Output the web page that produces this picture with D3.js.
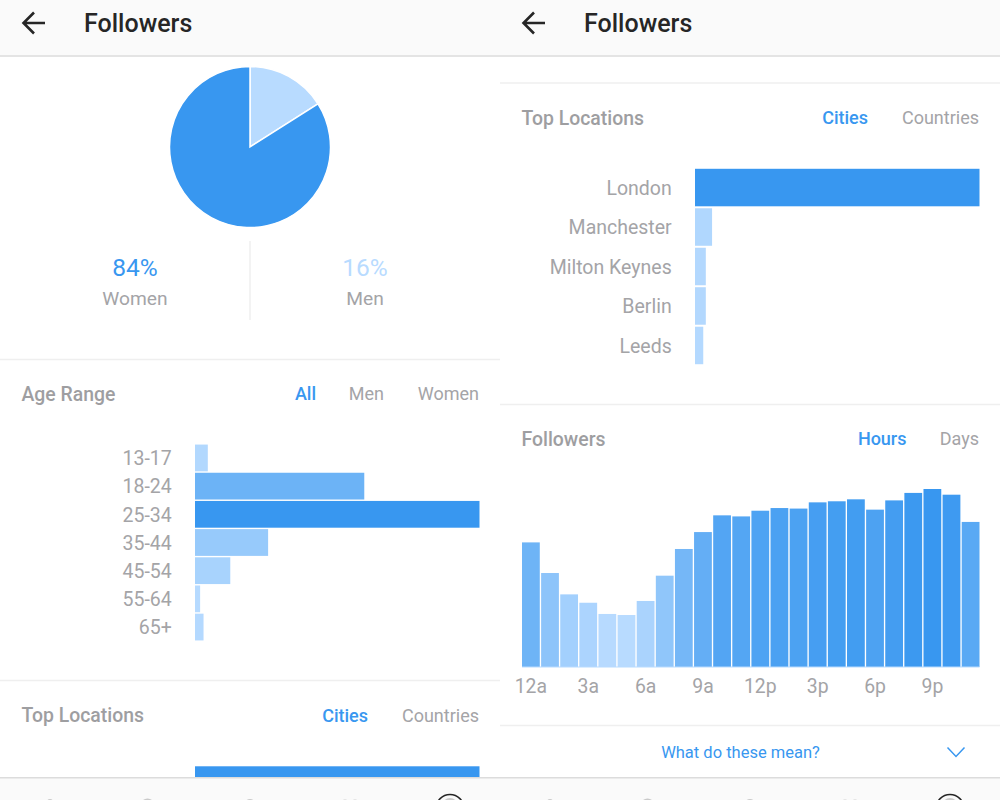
<!DOCTYPE html>
<html>
<head>
<meta charset="utf-8">
<script src="https://d3js.org/d3.v7.min.js"></script>
<style>
  html, body { margin: 0; padding: 0; background: #fff; }
  svg { display: block; font-family: Roboto, sans-serif; }
  .tick text { font-family: Roboto, sans-serif; }
</style>
</head>
<body>
<svg id="chart" width="1000" height="800"></svg>
<script>
// values, percent of the biggest bar
const genderNames = ["Men", "Women"];
const genderValues = [16, 84];

const ageRanges = ["13-17", "18-24", "25-34", "35-44", "45-54", "55-64", "65+"];
const ageValues = [4.5, 59.5, 100, 25.7, 12.4, 1.8, 3];

const cities = ["London", "Manchester", "Milton Keynes", "Berlin", "Leeds"];
const cityValues = [100, 6, 3.8, 3.8, 2.9];

const hours = ["12a", "1a", "2a", "3a", "4a", "5a", "6a", "7a", "8a", "9a", "10a", "11a",
  "12p", "1p", "2p", "3p", "4p", "5p", "6p", "7p", "8p", "9p", "10p", "11p"];
const hourValues = [70, 52.8, 40.8, 36.1, 29.8, 29.2, 37.1, 51.3, 66.3, 75.8, 85.2, 84.6,
  87.8, 89.3, 89, 92.5, 93.1, 94.2, 88.4, 93.6, 97.8, 100, 96.8, 81.5];
const hourTicks = ["12a", "3a", "6a", "9a", "12p", "3p", "6p", "9p"];

const blue = "#3897f0", pale = "#b8dbff", grey = "#a4a4a7", titleGrey = "#9e9ea1", rule = "#efefef";

const svg = d3.select("#chart");

svg.append("clipPath").attr("id", "content")
  .append("rect").attr("x", 0).attr("y", 57).attr("width", 1000).attr("height", 721);

const content = svg.append("g").attr("clip-path", "url(#content)");

function label(g, str, x, y, opts) {
  opts = opts || {};
  return g.append("text").attr("x", x).attr("y", y).text(str)
    .attr("text-anchor", opts.anchor || "start")
    .attr("font-size", opts.size || 18)
    .attr("font-weight", opts.weight || 400)
    .attr("fill", opts.fill || grey);
}

function sectionTitle(g, str, x, y) {
  label(g, str, x, y, {size: 19.4, weight: 500, fill: titleGrey});
}

function hline(g, x1, x2, y) {
  g.append("line").attr("x1", x1).attr("x2", x2).attr("y1", y).attr("y2", y)
    .attr("stroke", rule).attr("stroke-width", 1.5);
}

// horizontal bars with category labels on the left, shown = how many rows are in frame
function hbars(g, cats, vals, top, bottom, shown) {
  const x = d3.scaleLinear().domain([0, 100]).range([195, 479.5]);
  const y = d3.scaleBand().domain(cats).range([top, bottom]).paddingInner(0.05).paddingOuter(0.02);
  const color = d3.scaleLinear().domain([0, 100]).range([pale, blue]);

  g.selectAll(null).data(vals.slice(0, shown)).enter().append("rect")
    .attr("x", x(0))
    .attr("y", (d, i) => y(cats[i]))
    .attr("width", d => x(d) - x(0))
    .attr("height", y.bandwidth())
    .attr("fill", d => color(d));

  const axis = g.append("g").attr("transform", "translate(195,1)")
    .call(d3.axisLeft(y).tickValues(cats.slice(0, shown)).tickSize(0).tickPadding(23.3));
  axis.select(".domain").remove();
  axis.selectAll("text").attr("font-size", 19.5).attr("fill", grey);
}

function header(x) {
  svg.append("rect").attr("x", x).attr("y", 0).attr("width", 500).attr("height", 55).attr("fill", "#fafafa");
  svg.append("rect").attr("x", x).attr("y", 55).attr("width", 500).attr("height", 2).attr("fill", "#e4e4e4");
  svg.append("path")
    .attr("d", `M${x + 45},23 H${x + 24} M${x + 34},12.5 L${x + 23.5},23 L${x + 34},33.5`)
    .attr("fill", "none").attr("stroke", "#262626").attr("stroke-width", 2.6);
  label(svg, "Followers", x + 84, 31.5, {size: 25, weight: 500, fill: "#262626"});
}

function navbar(x) {
  svg.append("rect").attr("x", x).attr("y", 778).attr("width", 500).attr("height", 22).attr("fill", "#fafafa");
  svg.append("rect").attr("x", x).attr("y", 777).attr("width", 500).attr("height", 1.5).attr("fill", "#dcdcdc");
  // only the tops of the tab icons are in frame
  [[50, 802, 3], [147.5, 806, 7.5], [250, 805, 6], [345, 803.5, 4], [355, 803.5, 4]].forEach(c => {
    svg.append("circle").attr("cx", x + c[0]).attr("cy", c[1]).attr("r", c[2]).attr("fill", "#cacaca");
  });
  svg.append("circle").attr("cx", x + 450).attr("cy", 808.5).attr("r", 14)
    .attr("fill", "none").attr("stroke", "#262626").attr("stroke-width", 1.5);
  svg.append("circle").attr("cx", x + 450).attr("cy", 806).attr("r", 8)
    .attr("fill", "#cacaca");
}

// ---- left screen
const left = content.append("g");

const pie = d3.pie().sort(null)(genderValues);
const arc = d3.arc().innerRadius(0).outerRadius(80.5);
left.append("g").attr("transform", "translate(250,147)")
  .selectAll("path").data(pie).enter().append("path")
  .attr("d", arc)
  .attr("fill", (d, i) => i == 0 ? pale : blue)
  .attr("stroke", "#fff").attr("stroke-width", 1.5);

left.append("line").attr("x1", 250).attr("x2", 250).attr("y1", 241).attr("y2", 320)
  .attr("stroke", rule).attr("stroke-width", 1.5);
label(left, genderValues[1] + "%", 135, 276, {size: 24.5, anchor: "middle", fill: blue});
label(left, genderNames[1], 135, 305, {size: 19.2, anchor: "middle"});
label(left, genderValues[0] + "%", 365, 276, {size: 24.5, anchor: "middle", fill: pale});
label(left, genderNames[0], 365, 305, {size: 19.2, anchor: "middle"});

hline(left, 0, 500, 359.5);
sectionTitle(left, "Age Range", 21.5, 400.5);
label(left, "All", 316, 400, {anchor: "end", weight: 500, fill: blue});
label(left, "Men", 384, 400, {anchor: "end"});
label(left, "Women", 479, 400, {anchor: "end"});
hbars(left, ageRanges, ageValues, 444, 641, ageRanges.length);

// Top Locations, same block on both screens
function locations(g, dy, shown) {
  hline(g, 0, 500, 83 + dy);
  sectionTitle(g, "Top Locations", 21.5, 124.6 + dy);
  label(g, "Cities", 368, 124 + dy, {anchor: "end", weight: 500, fill: blue});
  label(g, "Countries", 479, 124 + dy, {anchor: "end"});
  hbars(g, cities, cityValues, 168 + dy, 365 + dy, shown);
}
// on the left only London reaches the tab bar
locations(left, 597.5, 1);

// ---- right screen
const right = content.append("g").attr("transform", "translate(500,0)");
locations(right, 0, cities.length);

hline(right, 0, 500, 404.5);
sectionTitle(right, "Followers", 21.5, 445.5);
label(right, "Hours", 406.5, 445, {anchor: "end", weight: 500, fill: blue});
label(right, "Days", 479, 445, {anchor: "end"});

const hx = d3.scaleBand().domain(hours).range([22, 479.5]).paddingInner(0.07);
const hy = d3.scaleLinear().domain([0, 100]).range([667, 489]);
const hcolor = d3.scaleLinear().domain([d3.min(hourValues), 100]).range([pale, blue]);

right.selectAll(null).data(hourValues).enter().append("rect")
  .attr("x", (d, i) => hx(hours[i]))
  .attr("y", d => hy(d))
  .attr("width", hx.bandwidth())
  .attr("height", d => hy(0) - hy(d))
  .attr("fill", d => hcolor(d));

right.append("line").attr("x1", 22).attr("x2", 479.5).attr("y1", 667).attr("y2", 667)
  .attr("stroke", pale).attr("stroke-width", 1);

const hourAxis = right.append("g").attr("transform", "translate(0,667)")
  .call(d3.axisBottom(hx).tickValues(hourTicks).tickSize(0).tickPadding(12.5));
hourAxis.select(".domain").remove();
hourAxis.selectAll("text").attr("font-size", 19.4).attr("fill", grey);

hline(right, 0, 500, 725.5);
label(right, "What do these mean?", 240.5, 758, {size: 16.5, anchor: "middle", fill: blue});
right.append("path").attr("d", "M447.5,747.5 L456,756.5 L464.5,747.5")
  .attr("fill", "none").attr("stroke", blue).attr("stroke-width", 1.5);

header(0);
header(500);
navbar(0);
navbar(500);
</script>
</body>
</html>
